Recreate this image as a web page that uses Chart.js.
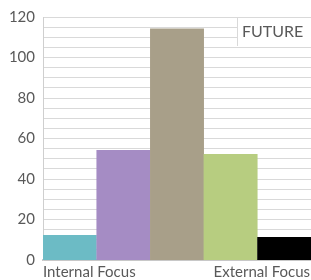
<!DOCTYPE html>
<html>
<head>
<meta charset="utf-8">
<script src="https://cdn.jsdelivr.net/npm/chart.js@4"></script>
<style>
  html, body { margin: 0; padding: 0; background: #fff; }
  #wrap { width: 311px; height: 280px; }
</style>
</head>
<body>
<div id="wrap"><canvas id="focus" width="311" height="280"></canvas></div>
<script>
const categories = ['Internal Focus', 'B', 'C', 'D', 'External Focus']
const values = [12, 54, 114, 52, 11]
const barColors = ['#6cbbc5', '#a58cc4', '#a89f89', '#b7cd80', '#000000']
const yTicks = [0, 20, 40, 60, 80, 100, 120]
const endLabels = ['Internal Focus', 'External Focus']
const legendLabel = 'FUTURE'

const textColor = '#595959'
const fontFamily = 'Lato, "Open Sans", sans-serif'

// draws the two end labels under the axis and the little legend box
const extras = {
    id: 'extras',
    afterDraw (chart) {
        const { ctx, chartArea } = chart
        ctx.save()
        ctx.font = '15px ' + fontFamily
        ctx.fillStyle = textColor
        ctx.textBaseline = 'middle'
        ctx.textAlign = 'left'
        ctx.fillText(endLabels[0], chartArea.left, chartArea.bottom + 12)
        ctx.textAlign = 'right'
        ctx.fillText(endLabels[1], chartArea.right - 1, chartArea.bottom + 12)

        // legend box
        const bx = chartArea.right - 74
        const by = chartArea.top
        ctx.fillStyle = '#ffffff'
        ctx.fillRect(bx, by + 1, 74, 28)
        ctx.strokeStyle = '#d9d9d9'
        ctx.lineWidth = 1
        ctx.beginPath()
        ctx.moveTo(bx + 0.5, by)
        ctx.lineTo(bx + 0.5, by + 29)
        ctx.stroke()
        ctx.fillStyle = textColor
        ctx.font = '16px ' + fontFamily
        ctx.textAlign = 'left'
        ctx.fillText(legendLabel, bx + 5, by + 15)
        ctx.restore()
    }
}

const ctx = document.querySelector('#focus')
const focusChart = new Chart(ctx, {
    type: 'bar',
    data: {
        labels: categories,
        datasets: [{
            data: values,
            backgroundColor: barColors,
            borderWidth: 0,
            categoryPercentage: 0.98,
            barPercentage: 1,
            inflateAmount: 0.7
        }]
    },
    options: {
        responsive: false,
        animation: false,
        layout: { padding: { top: 4, right: 0, left: 0, bottom: 0 } },
        plugins: {
            legend: { display: false },
            tooltip: { enabled: false }
        },
        scales: {
            x: {
                grid: { display: false },
                border: { color: '#c8c8c8', width: 2 },
                ticks: { display: false },
                afterFit: (axis) => { axis.height = 20 }
            },
            y: {
                min: 0,
                max: 120,
                ticks: {
                    stepSize: 5,
                    autoSkip: false,
                    padding: 8,
                    color: textColor,
                    font: { family: fontFamily, size: 15 },
                    callback: (v) => yTicks.includes(v) ? v : ''
                },
                grid: { color: '#d9d9d9', drawTicks: false },
                border: { color: '#cfcfcf', width: 1 },
                afterFit: (axis) => { axis.width = 43 }
            }
        }
    },
    plugins: [extras]
})
</script>
</body>
</html>
